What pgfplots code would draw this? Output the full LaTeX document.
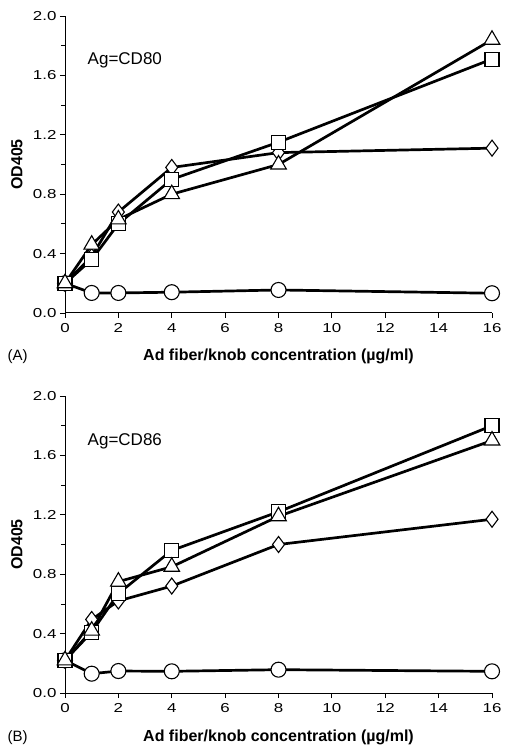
\documentclass[border=0pt]{standalone}
\usepackage{fontspec}
\setmainfont{Liberation Sans}
\newfontfamily\tickfont[FakeStretch=1.3]{Liberation Sans}
\usepackage{pgfplots}
\pgfplotsset{compat=1.18}
\pgfplotstableread{
x circ diam sq tri
0 0.20 0.20 0.20 0.20
1 0.135 0.38 0.36 0.46
2 0.135 0.68 0.60 0.63
4 0.14 0.98 0.90 0.80
8 0.155 1.08 1.15 1.00
16 0.133 1.11 1.71 1.84
}\dataA
\pgfplotstableread{
x circ diam sq tri
0 0.22 0.22 0.22 0.22
1 0.13 0.495 0.41 0.42
2 0.148 0.62 0.67 0.75
4 0.146 0.72 0.96 0.85
8 0.157 1.00 1.22 1.19
16 0.146 1.17 1.80 1.70
}\dataB
\begin{document}
\begin{tikzpicture}
\pgfplotsset{
 od/.style={
  scale only axis, width=427pt, height=297pt,
  xmin=0, xmax=16, ymin=0, ymax=2,
  axis x line*=bottom, axis y line*=left,
  axis line style={line width=1pt,-},
  xtick={0,2,4,6,8,10,12,14,16},
  ytick={0,0.4,0.8,1.2,1.6,2.0},
  minor ytick={0.2,0.6,1.0,1.4,1.8},
  tick align=outside, major tick length=5pt, minor tick length=4pt,
  every tick/.style={black, line width=0.8pt},
  tick label style={font=\tickfont\fontsize{13}{15}\selectfont},
  yticklabel style={/pgf/number format/.cd, fixed, fixed zerofill, precision=1},
  /pgf/number format/assume math mode=true,
  xticklabel style={yshift=-2pt},
  xlabel={\textbf{Ad fiber/knob concentration (µg/ml)}},
  xlabel style={font=\fontsize{16}{18}\selectfont, at={(rel axis cs:0.5,0)}, anchor=base, yshift=-48pt},
  ylabel={\textbf{OD405}},
  ylabel style={font=\fontsize{16}{18}\selectfont, at={(axis description cs:-0.1,0.5)}, anchor=base},
  clip=false,
  every axis plot/.append style={line width=2.7pt, black,
     mark options={line width=1.1pt, fill=white, solid}},
 },
}
% Panel A
\begin{axis}[od, at={(0,380pt)}]
\addplot[mark=*, mark size=7.5pt] table[x=x,y=circ]{\dataA};
\addplot[mark=diamond*, mark size=8pt] table[x=x,y=diam]{\dataA};
\addplot[mark=square*, mark size=7pt] table[x=x,y=sq]{\dataA};
\addplot[mark=triangle*, mark size=9pt] table[x=x,y=tri]{\dataA};
\node[anchor=base west, font=\fontsize{17}{19}\selectfont] at (axis cs:0.72,1.67) {Ag=CD80};
\end{axis}
\node[anchor=base west, font=\fontsize{15}{17}\selectfont] at (-61pt,332pt) {(A)};
% Panel B
\begin{axis}[od, at={(0,0)}]
\addplot[mark=*, mark size=7.5pt] table[x=x,y=circ]{\dataB};
\addplot[mark=diamond*, mark size=8pt] table[x=x,y=diam]{\dataB};
\addplot[mark=square*, mark size=7pt] table[x=x,y=sq]{\dataB};
\addplot[mark=triangle*, mark size=9pt] table[x=x,y=tri]{\dataB};
\node[anchor=base west, font=\fontsize{17}{19}\selectfont] at (axis cs:0.72,1.67) {Ag=CD86};
\end{axis}
\node[anchor=base west, font=\fontsize{15}{17}\selectfont] at (-61pt,-48pt) {(B)};
\useasboundingbox (-65pt,-58pt) rectangle (446pt,693pt);
\end{tikzpicture}
\end{document}
